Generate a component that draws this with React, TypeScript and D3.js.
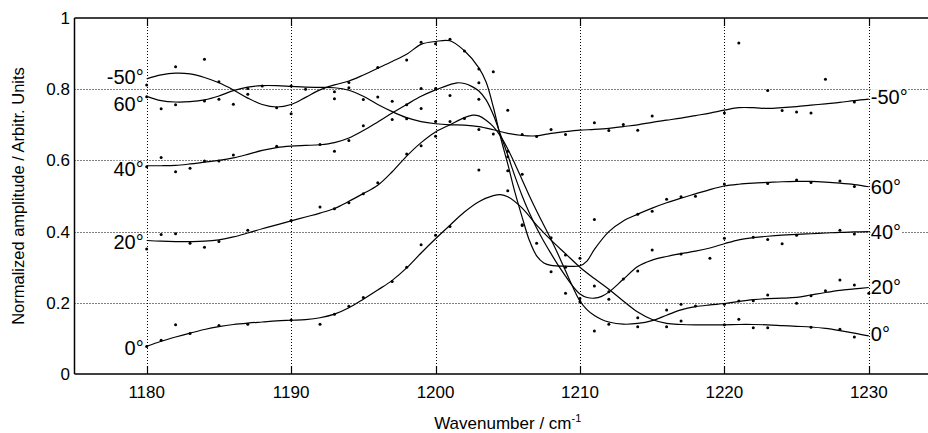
import React, { useEffect, useRef } from "react";
import * as d3 from "d3";

type Pt = [number, number];

const xTicks = [1180, 1190, 1200, 1210, 1220, 1230];
const yTicks = [0, 0.2, 0.4, 0.6, 0.8, 1];

// smooth fitted curves, [wavenumber, amplitude]
const fitMinus50: Pt[] = [
  [1180, 0.829], [1181, 0.84], [1182, 0.845], [1183, 0.843], [1184, 0.833], [1185, 0.818],
  [1186, 0.798], [1187, 0.775], [1188, 0.757], [1189, 0.75], [1190, 0.757], [1191, 0.777],
  [1192, 0.798], [1193, 0.812], [1194, 0.823], [1195, 0.84], [1196, 0.859], [1197, 0.878],
  [1198, 0.898], [1199, 0.926], [1200, 0.934], [1201, 0.936], [1202, 0.908], [1203, 0.86],
  [1203.5, 0.82], [1204, 0.75], [1204.5, 0.665], [1205, 0.59], [1205.5, 0.51], [1206, 0.44],
  [1206.5, 0.375], [1207, 0.332], [1207.5, 0.312], [1208, 0.305], [1209, 0.303], [1210, 0.304],
  [1210.5, 0.318], [1211, 0.35], [1212, 0.4], [1213, 0.43], [1214, 0.449], [1215, 0.466],
  [1216, 0.481], [1217, 0.494], [1218, 0.506], [1219, 0.518], [1220, 0.528], [1221, 0.533],
  [1222, 0.536], [1223, 0.538], [1224, 0.54], [1225, 0.541], [1226, 0.541], [1227, 0.539],
  [1228, 0.536], [1229, 0.532], [1230, 0.526],
];
const fit60: Pt[] = [
  [1180, 0.78], [1181, 0.768], [1182, 0.764], [1183, 0.765], [1184, 0.77], [1185, 0.781],
  [1186, 0.796], [1187, 0.806], [1188, 0.81], [1189, 0.81], [1190, 0.808], [1191, 0.806],
  [1192, 0.805], [1193, 0.804], [1194, 0.797], [1195, 0.78], [1196, 0.757], [1197, 0.737],
  [1198, 0.72], [1199, 0.709], [1200, 0.703], [1201, 0.7], [1202, 0.699], [1203, 0.695],
  [1204, 0.686], [1205, 0.676], [1206, 0.67], [1207, 0.669], [1208, 0.676], [1209, 0.681],
  [1210, 0.685], [1211, 0.687], [1212, 0.69], [1213, 0.695], [1214, 0.7], [1215, 0.707],
  [1216, 0.713], [1217, 0.719], [1218, 0.726], [1219, 0.733], [1220, 0.741], [1221, 0.748],
  [1222, 0.748], [1223, 0.746], [1224, 0.748], [1225, 0.751], [1226, 0.755], [1227, 0.759],
  [1228, 0.763], [1229, 0.768], [1230, 0.772],
];
const fit40: Pt[] = [
  [1180, 0.585], [1181, 0.585], [1182, 0.586], [1183, 0.59], [1184, 0.595], [1185, 0.6],
  [1186, 0.607], [1187, 0.617], [1188, 0.628], [1189, 0.636], [1190, 0.64], [1191, 0.642],
  [1192, 0.644], [1193, 0.65], [1194, 0.663], [1195, 0.684], [1196, 0.708], [1197, 0.733],
  [1198, 0.757], [1199, 0.78], [1200, 0.798], [1201, 0.813], [1201.5, 0.818], [1202, 0.816],
  [1202.5, 0.808], [1203, 0.795], [1203.5, 0.77], [1204, 0.728], [1204.5, 0.672], [1205, 0.615],
  [1205.5, 0.555], [1206, 0.5], [1206.5, 0.452], [1207, 0.41], [1207.5, 0.372], [1208, 0.338],
  [1208.5, 0.305], [1209, 0.275], [1209.5, 0.247], [1210, 0.225], [1210.5, 0.215], [1211, 0.213],
  [1211.5, 0.218], [1212, 0.23], [1213, 0.266], [1214, 0.302], [1215, 0.32], [1216, 0.33],
  [1217, 0.338], [1218, 0.345], [1219, 0.354], [1220, 0.366], [1221, 0.377], [1222, 0.383],
  [1223, 0.387], [1224, 0.39], [1225, 0.392], [1226, 0.394], [1227, 0.396], [1228, 0.398],
  [1229, 0.399], [1230, 0.4],
];
const fit20: Pt[] = [
  [1180, 0.375], [1181, 0.373], [1182, 0.372], [1183, 0.372], [1184, 0.373], [1185, 0.377],
  [1186, 0.385], [1187, 0.396], [1188, 0.408], [1189, 0.419], [1190, 0.43], [1191, 0.441],
  [1192, 0.452], [1193, 0.465], [1194, 0.485], [1195, 0.507], [1196, 0.53], [1197, 0.568],
  [1198, 0.612], [1199, 0.65], [1200, 0.68], [1201, 0.7], [1202, 0.72], [1202.6, 0.727],
  [1203, 0.725], [1203.5, 0.713], [1204, 0.695], [1204.5, 0.668], [1205, 0.632], [1205.5, 0.59],
  [1206, 0.545], [1206.5, 0.5], [1207, 0.458], [1207.5, 0.418], [1208, 0.378], [1208.5, 0.335],
  [1209, 0.29], [1209.5, 0.245], [1210, 0.205], [1210.5, 0.18], [1211, 0.164], [1211.5, 0.153],
  [1212, 0.146], [1213, 0.14], [1214, 0.142], [1215, 0.15], [1216, 0.165], [1217, 0.18],
  [1218, 0.189], [1219, 0.194], [1220, 0.198], [1221, 0.204], [1222, 0.209], [1223, 0.212],
  [1224, 0.213], [1225, 0.215], [1226, 0.222], [1227, 0.229], [1228, 0.235], [1229, 0.239],
  [1230, 0.243],
];
const fit0: Pt[] = [
  [1180, 0.078], [1181, 0.092], [1182, 0.104], [1183, 0.115], [1184, 0.125], [1185, 0.133],
  [1186, 0.139], [1187, 0.143], [1188, 0.146], [1189, 0.149], [1190, 0.151], [1191, 0.153],
  [1192, 0.158], [1193, 0.168], [1194, 0.186], [1195, 0.21], [1196, 0.236], [1197, 0.263],
  [1198, 0.298], [1199, 0.34], [1200, 0.38], [1201, 0.418], [1202, 0.455], [1203, 0.484],
  [1204, 0.501], [1204.5, 0.504], [1205, 0.498], [1206, 0.466], [1207, 0.418], [1208, 0.376],
  [1209, 0.338], [1210, 0.3], [1211, 0.268], [1212, 0.238], [1213, 0.205], [1214, 0.174],
  [1215, 0.153], [1216, 0.142], [1217, 0.139], [1218, 0.138], [1219, 0.138], [1220, 0.138],
  [1221, 0.139], [1222, 0.139], [1223, 0.138], [1224, 0.136], [1225, 0.134], [1226, 0.132],
  [1227, 0.128], [1228, 0.122], [1229, 0.115], [1230, 0.107],
];

// measured points
const ptsMinus50: Pt[] = [
  [1180, 0.812], [1182, 0.863], [1184, 0.884], [1185, 0.821], [1187, 0.786], [1189, 0.748],
  [1190, 0.731], [1191, 0.8], [1193, 0.793], [1194, 0.819], [1196, 0.861], [1198, 0.882],
  [1199, 0.932], [1200, 0.928], [1201, 0.94], [1202, 0.907], [1203, 0.857], [1204, 0.849],
  [1205, 0.571], [1206, 0.419], [1207, 0.367], [1208, 0.287], [1209, 0.3], [1210, 0.325],
  [1211, 0.434], [1214, 0.449], [1215, 0.457], [1216, 0.491], [1217, 0.498], [1218, 0.499],
  [1220, 0.534], [1223, 0.535], [1225, 0.545], [1226, 0.538], [1228, 0.542], [1229, 0.527],
];
const pts60: Pt[] = [
  [1180, 0.779], [1181, 0.745], [1182, 0.756], [1184, 0.767], [1185, 0.772], [1186, 0.758],
  [1187, 0.802], [1188, 0.809], [1190, 0.809], [1193, 0.773], [1194, 0.804], [1195, 0.771],
  [1196, 0.778], [1197, 0.766], [1198, 0.717], [1199, 0.746], [1200, 0.709], [1201, 0.709],
  [1203, 0.687], [1204, 0.674], [1205, 0.741], [1206, 0.673], [1207, 0.667], [1208, 0.687],
  [1209, 0.673], [1211, 0.706], [1212, 0.684], [1213, 0.701], [1214, 0.685], [1215, 0.725],
  [1220, 0.733], [1221, 0.93], [1223, 0.796], [1224, 0.74], [1225, 0.736], [1226, 0.733],
  [1227, 0.828], [1229, 0.764],
];
const pts40: Pt[] = [
  [1180, 0.582], [1181, 0.608], [1182, 0.568], [1183, 0.578], [1184, 0.598], [1185, 0.598],
  [1186, 0.615], [1189, 0.64], [1192, 0.645], [1193, 0.626], [1194, 0.656], [1195, 0.697],
  [1197, 0.715], [1198, 0.756], [1199, 0.802], [1200, 0.802], [1201, 0.782], [1203, 0.818],
  [1203, 0.772], [1205, 0.61], [1208, 0.383], [1209, 0.227], [1210, 0.212], [1211, 0.247],
  [1212, 0.231], [1213, 0.267], [1214, 0.289], [1215, 0.348], [1217, 0.337], [1219, 0.325],
  [1220, 0.381], [1222, 0.384], [1223, 0.378], [1224, 0.366], [1225, 0.39], [1228, 0.404],
  [1229, 0.393],
];
const pts20: Pt[] = [
  [1180, 0.351], [1181, 0.392], [1182, 0.394], [1183, 0.367], [1184, 0.356], [1185, 0.372],
  [1187, 0.404], [1190, 0.431], [1192, 0.469], [1193, 0.464], [1194, 0.481], [1195, 0.506],
  [1196, 0.537], [1198, 0.618], [1199, 0.641], [1200, 0.668], [1202, 0.718], [1205, 0.626],
  [1206, 0.561], [1210, 0.203], [1211, 0.121], [1212, 0.14], [1214, 0.133], [1216, 0.18],
  [1217, 0.196], [1218, 0.191], [1220, 0.196], [1221, 0.205], [1222, 0.206], [1223, 0.222],
  [1225, 0.199], [1226, 0.22], [1227, 0.234], [1228, 0.264], [1229, 0.25], [1230, 0.227],
];
const pts0: Pt[] = [
  [1180, 0.077], [1181, 0.095], [1182, 0.138], [1183, 0.114], [1185, 0.136], [1187, 0.14],
  [1190, 0.152], [1192, 0.14], [1193, 0.168], [1194, 0.19], [1195, 0.215], [1197, 0.26],
  [1198, 0.3], [1199, 0.363], [1200, 0.39], [1201, 0.414], [1203, 0.573], [1205, 0.515],
  [1206, 0.417], [1209, 0.334], [1212, 0.21], [1214, 0.158], [1216, 0.133], [1217, 0.149],
  [1220, 0.138], [1221, 0.154], [1222, 0.13], [1223, 0.13], [1226, 0.131], [1228, 0.126],
  [1229, 0.104],
];

const leftLabels = ["-50°", "60°", "40°", "20°", "0°"];
const rightLabels = ["60°", "-50°", "40°", "20°", "0°"];
const fits = [fitMinus50, fit60, fit40, fit20, fit0];
const points = [ptsMinus50, pts60, pts40, pts20, pts0];

const W = 928;
const H = 433;
const FONT = "'Liberation Sans', Arial, Helvetica, sans-serif";

const App = () => {
  const ref = useRef<SVGSVGElement>(null);

  useEffect(() => {
    const svg = d3.select(ref.current);
    svg.selectAll("*").remove();

    const x = d3.scaleLinear().domain([1175, 1235]).range([74.5, 941]);
    const y = d3.scaleLinear().domain([0, 1]).range([374, 18]);
    const left = x(1175);

    // grid
    const grid = svg.append("g").attr("stroke", "#000").attr("stroke-width", 1).attr("stroke-dasharray", "1,2");
    grid.selectAll("line.gx")
      .data(xTicks)
      .join("line")
      .attr("x1", (d) => Math.round(x(d)) + 0.5)
      .attr("x2", (d) => Math.round(x(d)) + 0.5)
      .attr("y1", y(1))
      .attr("y2", y(0));
    grid.selectAll("line.gy")
      .data(yTicks.filter((d) => d > 0 && d < 1))
      .join("line")
      .attr("class", "gy")
      .attr("x1", left)
      .attr("x2", W)
      .attr("y1", (d) => Math.round(y(d)) + 0.5)
      .attr("y2", (d) => Math.round(y(d)) + 0.5);

    // frame
    const frame = svg.append("g").attr("stroke", "#000").attr("stroke-width", 1.5);
    frame.append("line").attr("x1", left).attr("x2", left).attr("y1", y(1)).attr("y2", y(0));
    frame.append("line").attr("x1", left).attr("x2", W).attr("y1", y(1)).attr("y2", y(1));
    frame.append("line").attr("x1", left).attr("x2", W).attr("y1", y(0)).attr("y2", y(0));

    // ticks
    const ticks = svg.append("g").attr("stroke", "#000").attr("stroke-width", 1.2);
    xTicks.forEach((t) => {
      const px = Math.round(x(t)) + 0.5;
      ticks.append("line").attr("x1", px).attr("x2", px).attr("y1", y(0)).attr("y2", y(0) - 8);
      ticks.append("line").attr("x1", px).attr("x2", px).attr("y1", y(1)).attr("y2", y(1) + 8);
    });

    // curves
    const line = d3
      .line<Pt>()
      .x((d) => x(d[0]))
      .y((d) => y(d[1]))
      .curve(d3.curveCatmullRom.alpha(0.5));
    svg.append("g")
      .selectAll("path")
      .data(fits)
      .join("path")
      .attr("fill", "none")
      .attr("stroke", "#000")
      .attr("stroke-width", 1.2)
      .attr("d", (d) => line(d));

    // points
    svg.append("g")
      .selectAll("circle")
      .data(points.flat())
      .join("circle")
      .attr("cx", (d) => x(d[0]))
      .attr("cy", (d) => y(d[1]))
      .attr("r", 1.5)
      .attr("fill", "#000");

    // curve labels
    const leftNudge = [-2, 8, 3, 1, 2];
    const rightNudge = [0, -2, 0, 0, -2];
    const labels = svg.append("g").attr("font-family", FONT).attr("font-size", 20).attr("fill", "#000");
    const addLabel = (txt: string, px: number, py: number, anchor: string) => {
      const g = labels.append("g");
      const rect = g.append("rect").attr("fill", "#fff");
      const t = g.append("text")
        .attr("x", px)
        .attr("y", py)
        .attr("dy", "0.35em")
        .attr("text-anchor", anchor)
        .text(txt);
      const bb = (t.node() as SVGTextElement).getBBox();
      rect.attr("x", bb.x).attr("y", py - 8).attr("width", bb.width).attr("height", 16);
    };
    fits.forEach((f, i) => {
      addLabel(leftLabels[i], x(1180) - 3, y(f[0][1]) + leftNudge[i], "end");
      addLabel(rightLabels[i], x(1230) + 2, y(f[f.length - 1][1]) + rightNudge[i], "start");
    });

    // tick labels
    const tl = svg.append("g").attr("font-family", FONT).attr("font-size", 17).attr("fill", "#000");
    tl.selectAll("text.xt")
      .data(xTicks)
      .join("text")
      .attr("x", (d) => x(d))
      .attr("y", 398)
      .attr("text-anchor", "middle")
      .text((d) => d);
    tl.selectAll("text.yt")
      .data(yTicks)
      .join("text")
      .attr("class", "yt")
      .attr("x", 70)
      .attr("y", (d) => y(d))
      .attr("dy", "0.35em")
      .attr("text-anchor", "end")
      .text((d) => d3.format("~g")(d));

    // axis titles
    svg.append("text")
      .attr("transform", `translate(24,${(y(0) + y(1)) / 2}) rotate(-90)`)
      .attr("text-anchor", "middle")
      .attr("font-family", FONT)
      .attr("font-size", 16.5)
      .text("Normalized amplitude / Arbitr. Units");

    const xt = svg.append("text")
      .attr("x", (x(1175) + x(1235)) / 2)
      .attr("y", 429)
      .attr("text-anchor", "middle")
      .attr("font-family", FONT)
      .attr("font-size", 17);
    xt.append("tspan").text("Wavenumber / cm");
    xt.append("tspan").attr("dy", -7).attr("font-size", 11).text("-1");
  }, []);

  return (
    <svg
      ref={ref}
      width={W}
      height={H}
      style={{ position: "absolute", left: 0, top: 0, background: "#fff" }}
    />
  );
};

export default App;
